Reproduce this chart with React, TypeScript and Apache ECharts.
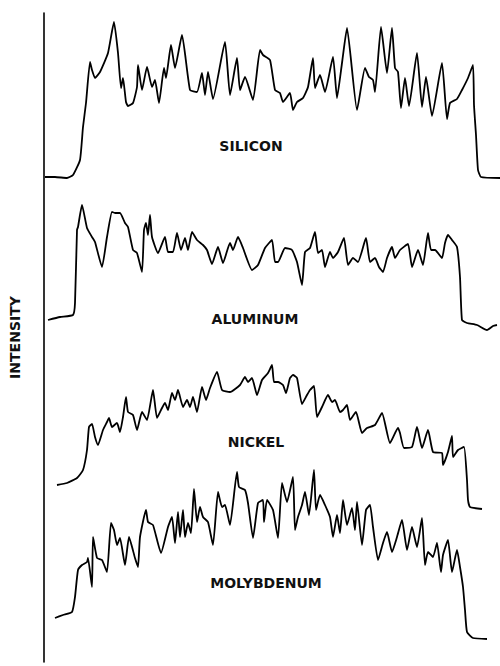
import React, { useEffect, useRef } from "react";
import * as echarts from "echarts";

// [position, intensity] pairs
const silicon: [number, number][] = [
  [5, 13], [15, 13], [27, 12], [33, 15], [40, 30], [43, 63], [46, 87], [50, 128], [52, 120], [55, 112],
  [60, 118], [68, 137], [74, 168], [78, 137], [81, 102], [83, 112], [86, 88], [88, 84], [93, 87], [97, 103],
  [98, 125], [102, 100], [107, 123], [112, 103], [115, 110], [119, 87], [124, 122], [126, 112], [131, 145],
  [135, 122], [142, 155], [150, 100], [157, 98], [162, 117], [165, 95], [168, 118], [173, 91], [185, 148],
  [190, 95], [197, 132], [200, 100], [205, 113], [213, 90], [220, 140], [223, 135], [230, 130], [235, 100],
  [240, 97], [243, 88], [250, 97], [253, 80], [257, 88], [263, 92], [268, 103], [273, 132], [275, 102],
  [280, 115], [285, 98], [293, 133], [297, 92], [302, 127], [307, 162], [317, 80], [325, 122], [329, 113],
  [333, 110], [335, 98], [341, 163], [347, 117], [352, 162], [355, 122], [358, 118], [361, 82], [365, 112],
  [369, 84], [377, 137], [382, 83], [386, 113], [392, 74], [402, 127], [407, 71], [410, 87], [417, 91],
  [422, 100], [428, 112], [433, 125], [434, 85], [436, 55], [438, 20], [441, 13], [460, 12],
];

const aluminum: [number, number][] = [
  [8, 20], [20, 23], [33, 25], [35, 37], [37, 110], [38, 113], [42, 135], [47, 112], [52, 103], [55, 98],
  [62, 73], [67, 103], [72, 128], [75, 127], [80, 127], [85, 117], [88, 113], [93, 90], [97, 87], [102, 68],
  [104, 110], [106, 117], [108, 105], [110, 125], [112, 103], [118, 87], [125, 103], [128, 88], [133, 88],
  [137, 107], [141, 90], [145, 102], [148, 90], [152, 108], [157, 100], [163, 95], [167, 90], [172, 76],
  [178, 93], [183, 77], [190, 97], [193, 90], [198, 103], [203, 92], [212, 70], [218, 75], [225, 92],
  [232, 100], [235, 78], [238, 78], [245, 92], [252, 90], [257, 78], [262, 55], [265, 88], [270, 92],
  [275, 108], [278, 87], [282, 90], [285, 73], [290, 88], [293, 82], [298, 88], [304, 102], [308, 75],
  [313, 82], [318, 78], [326, 102], [330, 78], [335, 82], [339, 73], [343, 68], [347, 82], [352, 93],
  [355, 82], [360, 90], [368, 96], [372, 73], [378, 90], [383, 75], [388, 107], [391, 90], [395, 90],
  [402, 82], [405, 97], [408, 105], [412, 100], [417, 93], [420, 63], [422, 20], [427, 17], [437, 15],
  [447, 10], [453, 14], [457, 15],
];

const nickel: [number, number][] = [
  [17, 35], [27, 37], [37, 42], [43, 50], [47, 70], [49, 93], [52, 96], [55, 83], [58, 75], [63, 90],
  [67, 98], [69, 102], [72, 93], [77, 97], [80, 88], [83, 103], [86, 123], [88, 108], [93, 105], [97, 90],
  [102, 108], [107, 100], [113, 130], [117, 102], [122, 112], [125, 117], [128, 110], [132, 127], [135, 120],
  [138, 130], [143, 113], [147, 120], [150, 113], [153, 123], [157, 108], [162, 133], [166, 120], [170, 132],
  [177, 148], [182, 130], [190, 128], [200, 135], [205, 143], [208, 138], [212, 142], [217, 125], [222, 140],
  [228, 147], [232, 155], [234, 138], [238, 138], [243, 135], [246, 127], [250, 142], [253, 145], [257, 142],
  [262, 116], [267, 125], [270, 130], [274, 134], [277, 103], [282, 113], [288, 125], [292, 118], [295, 120],
  [300, 108], [303, 110], [307, 115], [310, 100], [316, 108], [322, 87], [327, 92], [335, 95], [342, 107],
  [350, 77], [358, 92], [360, 87], [364, 72], [372, 73], [377, 93], [382, 72], [388, 90], [393, 68],
  [402, 67], [403, 55], [408, 68], [412, 84], [413, 63], [418, 70], [424, 73], [427, 40], [428, 20],
  [430, 13], [442, 11],
];

const molybdenum: [number, number][] = [
  [15, 32], [23, 35], [32, 38], [35, 53], [38, 80], [42, 85], [47, 88], [48, 92], [52, 63], [53, 113],
  [57, 92], [62, 90], [67, 78], [71, 127], [74, 120], [77, 105], [80, 112], [85, 85], [89, 113], [95, 92],
  [98, 83], [100, 113], [106, 140], [108, 128], [113, 125], [121, 97], [128, 123], [132, 133], [135, 107],
  [138, 138], [140, 113], [143, 140], [145, 113], [148, 127], [151, 117], [154, 161], [157, 128], [160, 143],
  [163, 133], [168, 128], [173, 105], [178, 158], [182, 143], [185, 145], [190, 125], [197, 178], [199, 163],
  [205, 160], [208, 147], [213, 112], [218, 147], [223, 150], [224, 128], [227, 150], [233, 140], [238, 112],
  [242, 167], [247, 148], [253, 173], [255, 120], [258, 133], [262, 145], [265, 158], [269, 135], [274, 180],
  [276, 140], [280, 155], [285, 145], [290, 133], [293, 113], [297, 135], [300, 117], [303, 150], [307, 125],
  [312, 142], [315, 120], [317, 148], [322, 105], [326, 140], [330, 145], [333, 123], [338, 90], [343, 107],
  [347, 118], [352, 98], [357, 113], [362, 130], [367, 100], [372, 123], [377, 103], [382, 132], [385, 85],
  [388, 98], [393, 93], [397, 107], [401, 78], [403, 95], [408, 110], [412, 78], [417, 100], [420, 83],
  [423, 63], [425, 40], [427, 18], [433, 12], [447, 11],
];

const traceNames = ["SILICON", "ALUMINUM", "NICKEL", "MOLYBDENUM"];
const traces = [silicon, aluminum, nickel, molybdenum];
const axisName = "INTENSITY";

// layout (pixels)
const gridTops = [0, 150, 330, 460];
const gridHeight = 190;
const labelPos: [number, number][] = [[251, 146], [255, 319], [256, 442], [266, 583]];

export default function App() {
  const ref = useRef<HTMLDivElement>(null);

  useEffect(() => {
    if (!ref.current) return;
    const chart = echarts.init(ref.current, null, { renderer: "svg" });

    const grids: any[] = traces.map((_, i) => ({
      left: 40,
      width: 460,
      top: gridTops[i],
      height: gridHeight,
      containLabel: false,
    }));
    grids.push({ left: 43, width: 400, top: 13, height: 649 });

    const xAxes: any[] = traces.map((_, i) => ({
      type: "value",
      gridIndex: i,
      min: 0,
      max: 460,
      show: false,
    }));
    xAxes.push({ type: "value", gridIndex: 4, min: 0, max: 1, show: false });

    const yAxes: any[] = traces.map((_, i) => ({
      type: "value",
      gridIndex: i,
      min: 0,
      max: 190,
      show: false,
    }));
    yAxes.push({
      type: "value",
      gridIndex: 4,
      min: 0,
      max: 1,
      position: "left",
      axisLine: { show: true, onZero: false, lineStyle: { color: "#000", width: 1.6 } },
      axisTick: { show: false },
      axisLabel: { show: false },
      splitLine: { show: false },
      name: axisName,
      nameLocation: "middle",
      nameRotate: 90,
      nameGap: 22,
      nameTextStyle: {
        fontFamily: "DejaVu Sans",
        fontWeight: "bold",
        fontSize: 14,
        color: "#111",
      },
    });

    const series: any[] = traces.map((data, i) => ({
      type: "line",
      name: traceNames[i],
      xAxisIndex: i,
      yAxisIndex: i,
      data,
      showSymbol: false,
      symbol: "none",
      smooth: 0.15,
      lineStyle: { color: "#000", width: 1.8 },
      z: 3,
    }));

    const graphic = traceNames.map((name, i) => ({
      type: "text",
      x: labelPos[i][0],
      y: labelPos[i][1],
      style: {
        text: name,
        fill: "#111",
        fontFamily: "DejaVu Sans",
        fontWeight: "bold",
        fontSize: 14,
        align: "center",
        verticalAlign: "middle",
      },
    }));

    chart.setOption({
      animation: false,
      backgroundColor: "#fff",
      grid: grids,
      xAxis: xAxes,
      yAxis: yAxes,
      series,
      graphic,
    });

    return () => chart.dispose();
  }, []);

  return (
    <div
      ref={ref}
      style={{ position: "fixed", left: 0, top: 0, width: 500, height: 666 }}
    />
  );
}
